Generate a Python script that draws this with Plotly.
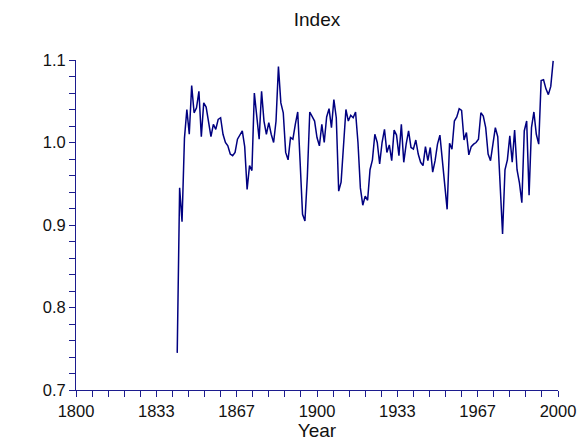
import plotly.graph_objects as go

years = list(range(1842, 1999))
values = [
    0.745, 0.945, 0.904, 1.005, 1.040, 1.010, 1.069, 1.036, 1.042, 1.062,  # 1842-1851
    1.007, 1.048, 1.043, 1.026, 1.007, 1.022, 1.016, 1.028, 1.030, 1.010,  # 1852-1861
    1.000, 0.996, 0.986, 0.984, 0.988, 1.004, 1.010, 1.014, 0.995, 0.943,  # 1862-1871
    0.972, 0.966, 1.060, 1.028, 1.004, 1.062, 1.026, 1.010, 1.024, 1.010,  # 1872-1881
    1.000, 1.026, 1.092, 1.048, 1.036, 0.988, 0.979, 1.006, 1.004, 1.022,  # 1882-1891
    1.037, 0.976, 0.913, 0.905, 0.959, 1.037, 1.031, 1.026, 1.006, 0.996,  # 1892-1901
    1.022, 1.000, 1.031, 1.041, 1.018, 1.052, 1.030, 0.941, 0.952, 1.001,  # 1902-1911
    1.040, 1.026, 1.033, 1.030, 1.037, 1.000, 0.945, 0.924, 0.935, 0.930,  # 1912-1921
    0.967, 0.979, 1.010, 1.000, 0.974, 1.000, 1.016, 0.988, 0.997, 0.978,  # 1922-1931
    1.015, 1.009, 0.984, 1.022, 0.976, 0.998, 1.014, 0.994, 0.992, 1.003,  # 1932-1941
    0.986, 0.976, 0.972, 0.995, 0.978, 0.994, 0.964, 0.978, 0.998, 1.009,  # 1942-1951
    0.979, 0.952, 0.919, 0.999, 0.992, 1.026, 1.031, 1.041, 1.039, 1.003,  # 1952-1961
    1.012, 0.985, 0.995, 0.998, 1.000, 1.004, 1.036, 1.032, 1.018, 0.986,  # 1962-1971
    0.978, 0.998, 1.018, 1.007, 0.939, 0.889, 0.967, 0.979, 1.008, 0.976,  # 1972-1981
    1.015, 0.967, 0.951, 0.927, 1.014, 1.026, 0.936, 1.018, 1.037, 1.010,  # 1982-1991
    0.998, 1.075, 1.076, 1.065, 1.058, 1.068, 1.099,                       # 1992-1998
]

x_tickvals = [1800, 1833.333, 1866.667, 1900, 1933.333, 1966.667, 2000]
x_ticktext = ["1800", "1833", "1867", "1900", "1933", "1967", "2000"]
y_tickvals = [0.7, 0.8, 0.9, 1.0, 1.1]
y_ticktext = ["0.7", "0.8", "0.9", "1.0", "1.1"]

axis_color = "#1c1c8e"
text_color = "#111111"
font_family = "Liberation Sans, Arial, sans-serif"

fig = go.Figure()
fig.add_trace(go.Scatter(
    x=years, y=values, mode="lines",
    line=dict(color="#000080", width=1.5),
    hoverinfo="x+y", showlegend=False,
))

# the page body has an 8px default margin, so the figure is sized 580x440
fig.update_layout(
    width=580, height=440,
    margin=dict(l=67.5, r=20.3, t=52, b=56, pad=0),
    paper_bgcolor="white", plot_bgcolor="white",
    font=dict(family=font_family, color=text_color, size=16.5),
    title=dict(text="Index", xref="paper", x=0.5, xanchor="center", y=1 - 11.5 / 440,
               yanchor="middle", font=dict(size=19, family=font_family, color=text_color)),
)

fig.update_xaxes(
    range=[1800, 2000], showgrid=False, zeroline=False,
    showline=True, linecolor=axis_color, linewidth=1,
    tickmode="array", tickvals=x_tickvals, ticktext=x_ticktext,
    ticks="outside", ticklen=6, tickcolor=axis_color, tickwidth=1,
    tickfont=dict(size=16.5, family=font_family, color=text_color),
    minor=dict(tick0=1800, dtick=200 / 30, ticks="outside", ticklen=6,
               tickcolor=axis_color, tickwidth=1, showgrid=False),
    title=dict(text="Year", standoff=3, font=dict(size=19, family=font_family, color=text_color)),
)
fig.update_yaxes(
    range=[0.7, 1.1], showgrid=False, zeroline=False,
    showline=True, linecolor=axis_color, linewidth=1,
    tickmode="array", tickvals=y_tickvals, ticktext=y_ticktext,
    ticks="outside", ticklen=6, tickcolor=axis_color, tickwidth=1,
    tickfont=dict(size=16.5, family=font_family, color=text_color),
    minor=dict(tick0=0.7, dtick=0.02, ticks="outside", ticklen=6,
               tickcolor=axis_color, tickwidth=1, showgrid=False),
)

fig.write_html("out.html")
